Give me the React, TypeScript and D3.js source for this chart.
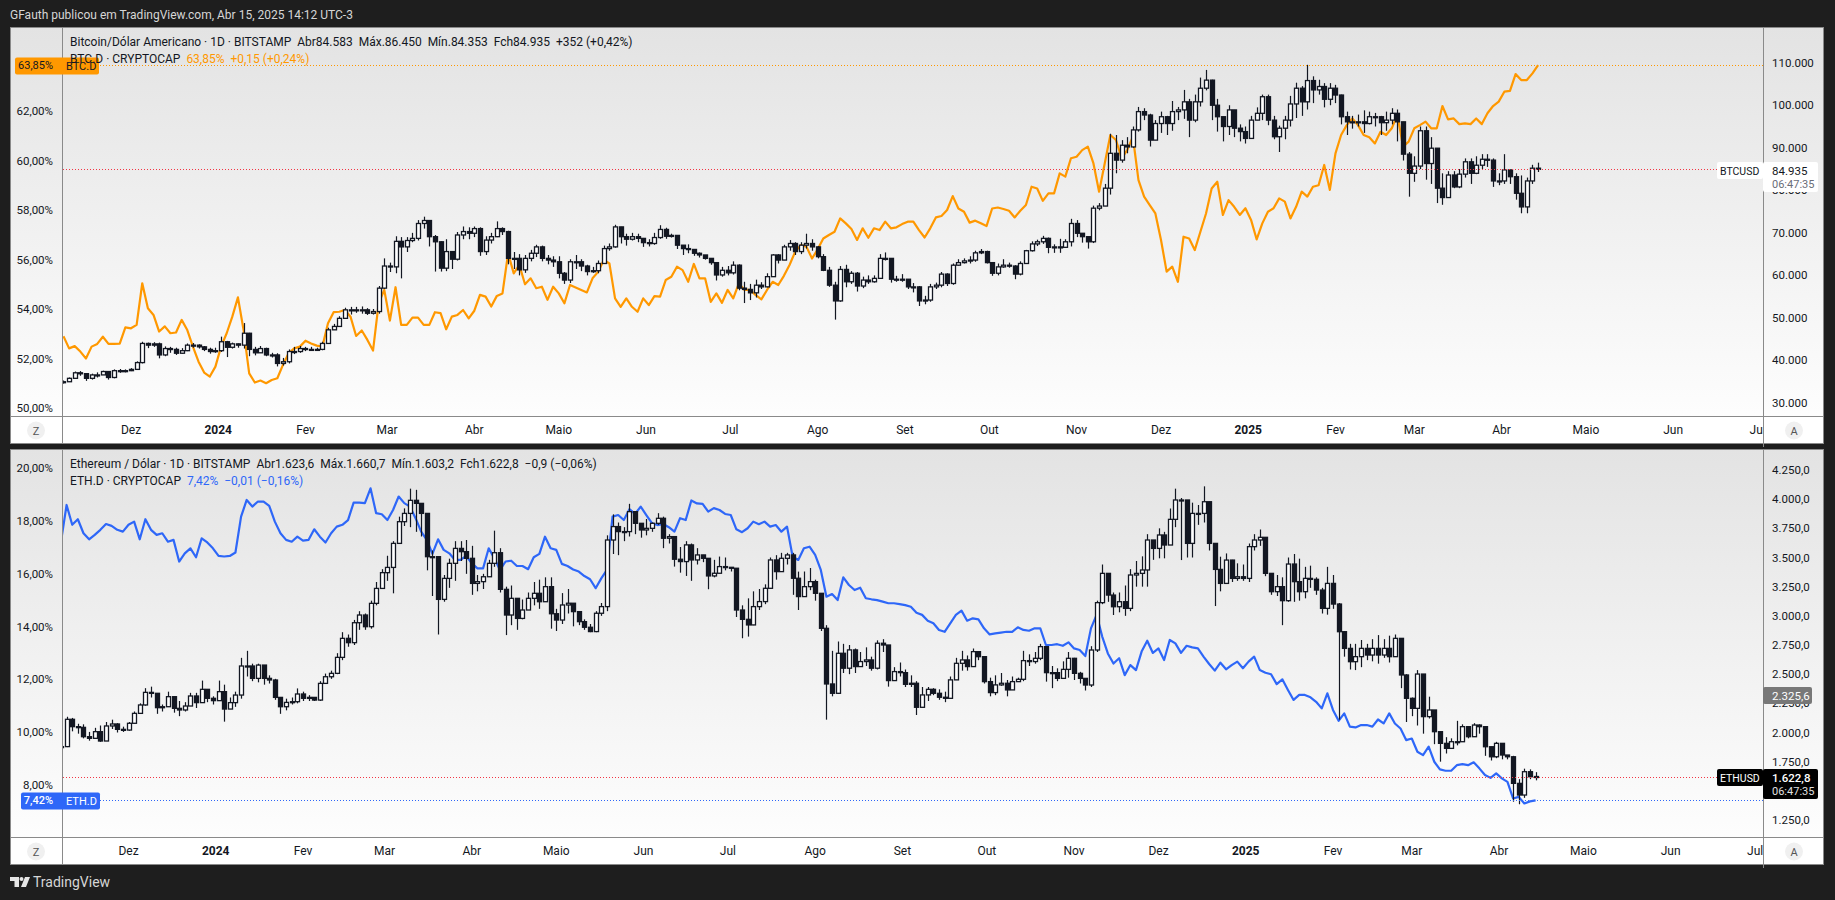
import React from 'react'
import * as d3 from 'd3'

// every candle and line point is one 2-day step from firstDate
const firstDate = new Date(Date.UTC(2023, 10, 7))

const btcClose = [
  35.0,35.8,37.1,36.9,35.8,36.6,36.6,37.4,36.0,37.6,
  37.6,37.6,37.9,39.5,44.0,43.6,43.9,41.3,42.8,42.6,
  41.7,42.3,43.6,43.6,43.2,42.6,42.1,42.3,44.4,43.1,
  43.9,43.6,46.4,42.6,41.8,42.8,41.3,41.3,39.3,39.7,
  42.1,42.1,42.8,42.6,42.6,42.6,44,47.2,48,49.9,
  51.9,51.9,51.9,51.9,51.1,51.5,57,62.2,62,68,
  66.7,68.2,68.7,72.2,72.9,69.1,67.9,61.7,65.6,63.8,
  69.5,70.3,69.9,71,65.6,68.3,69.1,71,70.3,64,
  64,61.3,64,65.2,66.7,64,63.6,63.2,
  60.5,58.9,63.2,63.2,62.2,60.9,61.1,62.8,66.3,66.7,71.4,69.1,
  68.5,69.1,68.7,67.7,67.5,68.9,70.8,69.2,69.4,67.1,
  66.3,66.1,65.2,64.8,64,63,60.1,61.2,60.6,62.4,
  57,56.7,55.9,57.7,57.3,59.7,64.8,63.6,66.7,67.5,
  65.6,67.1,67.5,66.7,64.4,61.2,57.7,54,61.4,58.5,
  60.5,57.5,58.9,58.5,59.3,64,64,59.1,59.1,59.1,
  57.3,57.3,54,54.2,57.3,57.7,60.3,58.1,62.4,63,
  63.4,63.6,65.3,65.6,63,60.5,62,62.4,62.2,60.3,
  62.8,65.8,67.4,67.9,68.7,66.6,
  66.7,66.6,67.9,72.2,69.9,69.1,67.9,75.8,76.3,80.5,
  88.7,87.1,90.6,90.2,94.2,98.5,97.7,91.8,95.7,97.3,
  95.7,98.5,98.9,100.8,96.5,100.8,104,105.9,100,97.3,
  95,98.9,94.6,93.8,92.2,96.5,98.1,102,96.5,92.6,
  94.6,96.5,100.3,104,100.8,105.8,103.6,104.4,101.4,104,
  102.4,97.3,96.1,96.1,96.1,95.7,97.3,97.3,95.9,96.5,
  98.1,96.1,88.5,84,85.7,94,86.3,89.9,80.5,78.3,
  83.6,80.8,83.8,86.7,84,85.9,87.3,87.1,82.2,82.2,
  84.8,83.2,79.3,76.1,82.2,85.2,84.935
]
const btcHigh = [
  35.3,36,37.4,37.5,37,36.9,37.2,37.6,37.5,37.9,
  38,37.9,38.2,39.8,44.4,44.2,44.3,44.2,43.3,43.2,
  43,42.9,44,44.1,43.8,43.4,43,43,45.6,44.6,
  44.2,44,48.8,46.5,43.2,43.4,43,41.8,41.7,40.6,
  42.6,43.2,43.4,43.2,43.2,43,44.4,47.7,48.6,50.4,
  52.4,52.6,52.6,52.7,52.3,52.1,57.5,64,63,69.2,
  69,69,70,73,73.8,71.5,69.5,68,68.5,65.5,
  70.2,71.5,71.3,71.5,71.3,69.2,70,72.7,71.3,70.5,
  65.5,65,64.8,66,67.2,67,64.8,64.5,
  64.5,60.8,63.8,64.8,63.8,62.5,62,63.5,67,67.5,71.9,71,
  69.8,70,69.8,68.8,68.5,70,71.8,71.2,69.8,69.2,
  67,67.3,66,65.4,64.6,63.6,63,62,62.2,63.3,
  62.6,58.5,58,59,58.4,60.5,65,65,67.2,68.3,
  67.8,67.8,69.8,68.5,66.9,65,62,58.5,62.2,62.5,
  61,60.8,59.7,60,60,65,65.4,64,59.9,60.3,
  59,58.2,57.5,55.2,58,58.3,60.8,60.5,62.8,63.8,
  64,64.5,65.8,66.2,65.8,63,62.8,63.8,63,62.4,
  63.3,66,68,68.4,69.3,68.9,
  67.3,68.6,68.5,73.3,73,69.8,69,76.4,77,81.5,
  93.3,93,91.8,92.5,95,99.6,99.3,98,96.5,98.5,
  97.5,101,99.6,103.6,101.5,102.5,106.5,108.3,106,101.5,
  97,100,98.8,95.5,95,97.5,99.5,102.5,102.5,97.5,
  95.2,97.5,102.2,105.3,104.5,109.5,106.8,106,105.2,105.2,
  104.8,102.5,98.5,97.5,97.8,98.8,98.5,98.2,97.5,98.5,
  99.3,99,93,89,88,95,95,92.5,86.5,84,
  84.5,84.5,85,87.5,87.5,88,88.5,88.5,87.5,84,
  88.5,84.5,84,83.5,83,86,86.5
]
const btcLow = [
  34.6,35,35.8,36.4,35.2,35.5,36,36.8,35.5,35.8,
  37.1,37.2,37.5,37.8,39.3,42.9,43.2,40.5,41,41.8,
  41.3,41.6,42.2,43,42.8,42.2,41.6,41.8,42,40.8,
  42.8,43,42.8,41,41.2,41.8,41,40.7,38.6,38.8,
  39.3,41.5,41.8,42.2,42.3,42.3,42.4,44,47.2,48,
  49.8,50.8,51.2,51,50.7,50.8,51,56.8,60.8,60.5,
  59.3,65.5,67.8,68.2,71,66.8,60.9,60.9,61,61.5,
  63.5,68.5,68.5,69,64.6,64.8,67.5,69,69.5,62.6,
  61.5,60,60.6,63.3,64.3,63.3,62.6,62,
  59.3,58,58.2,61.5,61,60,60.6,60.5,62.8,65.8,66.5,67.5,
  67,68.2,67.8,66.7,66.8,67.2,68.6,68.6,68.9,66.2,
  64.8,65.2,64.6,64.2,63.7,62.5,58.8,59.7,60,60.2,
  56.5,53.5,54.2,54.8,56.8,57.2,59.7,62.8,63.8,65.8,
  64.8,65,66.3,65.8,64,61,57.3,49.6,53.8,57.2,
  58,56.2,57,58,58.3,59.3,63.5,58.3,58.5,58.5,
  56.8,56,52.8,53.2,53.8,56.8,57.2,57.5,57.8,62.3,
  62.8,62.8,63.2,65,62.8,59.9,60,61.8,61.8,59.1,
  60,62.8,65.6,66.9,67.4,65.2,
  65.3,65.3,66.5,66.8,69,67.7,66.3,67.6,75.3,76.3,
  79,84,86.5,88.7,90,93.8,96.5,90.3,92,93.5,
  93,94,96.5,96.8,92.5,96,99.7,103.5,96.5,93.8,
  91.5,93,92.5,91.5,91,92.5,96.5,96.5,95.3,92,
  89,92,95,97,97.5,99,100.5,102.5,99.5,100,
  100.5,95.5,93,94.5,95,93.5,95.5,95,93,94,
  95.5,91.5,87,78.5,82,85,82.5,81.5,77,76.6,
  79,80.5,80.5,83,81.5,83.8,85,85.5,80.8,81.2,
  81.5,81.5,77.8,74.6,74.6,81.5,84.3
]
const btcDominance = [
  52.9,52.41,52.5,52.28,52.0,52.48,52.59,52.88,52.59,52.59,
  52.6,53.26,53.22,53.36,55.04,54.03,53.76,53.09,53.3,53.02,
  53.05,53.56,53.15,52.48,51.87,51.43,51.27,51.67,52.48,53.02,
  53.69,54.47,53.15,51.4,51.03,51.11,51,51.13,51.2,51.74,
  52.21,52.41,52.48,52.72,52.61,52.52,52.48,53.42,53.87,53.89,
  53.96,53.69,52.91,53.13,52.75,52.32,54.23,54.77,53.53,54.88,
  53.36,53.36,53.65,53.65,53.36,53.36,53.87,53.83,53.18,53.69,
  53.76,53.96,53.62,53.93,54.57,54.5,54.1,54.53,54.63,56.25,
  55.44,55.78,55,55.24,54.84,54.9,54.37,54.9,
  54.63,54.23,54.97,54.87,54.77,54.67,55.24,55.5,55.98,55.84,54.43,54.09,
  54.43,54.09,53.89,54.43,54.16,54.52,54.5,55.17,55.3,55.71,
  55.57,55.1,55.82,55.24,55.24,54.29,54.63,54.25,54.77,54.43,
  55.03,54.77,54.77,54.56,54.39,54.77,55.1,54.97,55.34,55.78,
  56.31,56.58,56.52,56.04,56.41,56.85,56.99,57.12,57.66,57.46,
  57.23,56.79,57.26,56.88,57.26,57.19,57.53,57.26,57.3,57.43,
  57.53,57.53,57.19,56.89,57.26,57.7,57.76,58,58.56,58.06,
  57.93,57.49,57.57,57.46,57.35,58.06,58.1,58.04,57.97,57.7,
  57.97,58.2,58.94,58.87,58.37,58.67,
  58.67,59.48,59.35,60.09,60.15,60.42,60.56,59.88,58.74,59.88,
  61.03,60.83,60.09,60.42,60.96,59.21,58.54,58.2,57.86,56.79,
  55.51,55.71,55.1,56.92,56.85,56.38,57.12,57.86,58.87,59.14,
  57.8,58.4,58.13,57.8,58.07,57.6,56.81,57.46,57.93,58.07,
  58.47,58.34,57.66,58.13,58.74,58.54,58.94,59,59.82,58.81,
  60.29,61.03,61.43,61.7,61.43,61.03,60.94,60.69,61.16,61.03,
  61.3,61.84,60.56,60.76,61.3,61.43,61.57,61.3,61.3,62.2,
  61.66,61.7,61.47,61.5,61.47,61.7,61.47,61.91,62.2,62.38,
  62.78,62.81,63.49,63.25,63.25,63.52,63.85
]

const ethClose = [
  1879,2113,2050,2044,1964,1950,2007,1927,2056,2073,
  2027,2021,2079,2164,2236,2344,2336,2213,2221,2307,
  2207,2193,2227,2313,2256,2370,2293,2273,2350,2201,
  2256,2321,2570,2570,2464,2578,2464,2450,2301,2221,
  2258,2264,2330,2293,2301,2278,2421,2478,2507,2644,
  2807,2770,2941,3007,2907,3107,3235,3370,3415,3621,
  3807,3878,3990,3964,3878,3507,3507,3141,3321,3450,
  3578,3550,3493,3278,3293,3335,3450,3541,3227,3007,
  3150,2978,3050,3150,3193,3121,3250,3018,2964,
  3093,3108,3036,2950,2902,2865,3022,3079,3650,3765,3722,
  3722,3893,3793,3736,3750,3793,3836,3665,3679,3485,
  3465,3608,3479,3522,3493,3342,3365,3422,3416,3408,
  3050,2970,2922,3079,3122,3236,3479,3379,3493,3522,
  3322,3165,3250,3293,3193,2893,2416,2336,2679,2551,
  2708,2565,2608,2622,2551,2765,2750,2445,2522,2513,
  2413,2422,2216,2322,2370,2336,2302,2293,2451,2593,
  2622,2565,2693,2650,2436,2342,2408,2422,2365,2436,
  2456,2616,2608,2636,2736,2513,
  2513,2464,2541,2636,2507,2464,2407,2707,3113,3364,
  3178,3078,3121,3064,3350,3364,3393,3650,3578,3693,
  3607,3827,3993,3993,3621,3878,3878,3978,3621,3398,
  3278,3478,3321,3335,3321,3593,3650,3673,3364,3207,
  3250,3130,3444,3293,3207,3321,3313,3221,3064,3278,
  3101,2864,2721,2607,2650,2721,2664,2721,2664,2721,
  2650,2807,2493,2293,2207,2501,2136,2193,2007,1907,
  1864,1921,1921,2050,1964,2064,2050,1878,1792,1907,
  1807,1792,1564,1464,1664,1621,1622.8
]
const ethHigh = [
  1900,2135,2125,2075,2070,2005,2040,2060,2090,2110,
  2080,2050,2090,2180,2250,2380,2393,2320,2240,2350,
  2310,2270,2260,2340,2340,2445,2350,2310,2445,2410,
  2300,2350,2640,2700,2590,2590,2500,2490,2460,2260,
  2290,2300,2378,2350,2320,2300,2440,2505,2530,2680,
  2860,2840,2965,3040,3020,3130,3290,3400,3515,3640,
  3850,3921,4090,4080,3950,3700,3560,3240,3350,3490,
  3640,3640,3650,3600,3350,3360,3480,3730,3580,3250,
  3260,3150,3140,3200,3290,3310,3330,3330,3060,
  3195,3230,3100,3010,2970,2930,3040,3110,3690,3870,3800,
  3760,3960,3870,3780,3830,3800,3880,3850,3700,3530,
  3590,3640,3620,3580,3500,3430,3480,3508,3500,3410,
  3410,3090,3150,3210,3230,3270,3500,3520,3540,3540,
  3540,3379,3380,3410,3310,3190,2920,2700,2780,2760,
  2750,2720,2690,2730,2650,2790,2800,2610,2560,2600,
  2540,2490,2440,2390,2390,2380,2370,2350,2480,2640,
  2700,2660,2720,2680,2650,2470,2490,2510,2450,2480,
  2470,2700,2670,2690,2760,2700,
  2570,2550,2610,2690,2640,2520,2440,2740,3130,3440,
  3335,3200,3200,3260,3400,3470,3510,3700,3650,3750,
  3720,3920,4090,4010,3700,3970,3950,4110,3960,3620,
  3507,3535,3480,3450,3440,3620,3700,3740,3440,3360,
  3350,3330,3500,3530,3490,3420,3430,3330,3240,3420,
  3350,3110,2870,2760,2760,2793,2760,2800,2835,2800,
  2830,2840,2630,2500,2300,2535,2340,2307,2193,1990,
  1960,1950,2100,2070,2030,2080,2070,1920,1830,1920,
  1840,1800,1800,1600,1690,1684,1660
]
const ethLow = [
  1865,1875,2010,1990,1950,1930,1950,1920,1930,2030,
  2000,2005,2015,2090,2160,2230,2300,2160,2180,2220,
  2170,2140,2180,2230,2210,2290,2260,2240,2270,2093,
  2220,2220,2290,2480,2440,2430,2410,2420,2280,2160,
  2190,2240,2250,2270,2270,2270,2270,2420,2460,2500,
  2620,2735,2750,2880,2880,2890,3090,3230,3300,3193,
  3640,3770,3760,3720,3680,3390,3170,2840,3121,3240,
  3300,3470,3360,3180,3210,3230,3400,3420,3200,2835,
  2920,2880,2970,3060,3090,3060,3190,2890,2870,
  2930,3020,2910,2920,2880,2860,2860,3000,3040,3530,3520,
  3640,3680,3700,3670,3690,3720,3780,3580,3620,3422,
  3370,3342,3300,3440,3460,3228,3330,3380,3390,3380,
  2990,2808,2822,2920,3050,3100,3230,3310,3380,3440,
  3180,3050,3180,3220,3130,2870,2110,2310,2330,2510,
  2500,2510,2580,2570,2530,2540,2690,2393,2500,2480,
  2390,2390,2150,2220,2270,2320,2280,2260,2400,2522,
  2530,2530,2590,2620,2420,2310,2320,2400,2310,2400,
  2440,2440,2570,2590,2620,2436,
  2380,2440,2510,2470,2450,2420,2360,2390,2690,3100,
  3120,3007,3030,3000,3040,3250,3250,3250,3480,3493,
  3493,3620,3760,3478,3500,3500,3780,3800,3560,3084,
  3210,3310,3290,3300,3300,3290,3560,3600,3340,3180,
  3170,2920,3120,3120,3130,3150,3240,3180,3020,3010,
  3060,2110,2650,2540,2535,2560,2620,2610,2590,2640,
  2600,2650,2380,2090,2140,2060,1990,2120,1900,1750,
  1820,1860,1890,1950,1950,1990,1990,1800,1760,1780,
  1770,1770,1407,1385,1440,1600,1590
]
const ethDominance = [
  17.21,18.6,17.85,18.06,17.53,17.3,17.47,17.66,17.88,17.81,
  17.66,17.59,17.85,17.97,17.3,18.06,17.66,17.47,17.53,17.21,
  17.28,16.46,16.77,16.96,16.62,17.34,17.18,16.96,16.67,16.65,
  16.67,16.8,18.16,18.79,18.54,18.73,18.73,18.57,17.97,17.53,
  17.28,17.21,17.4,17.25,17.28,17.68,17.4,17.18,17.53,17.78,
  17.85,18.03,18.69,18.69,18.67,19.23,18.29,18.25,18.03,18.41,
  18.92,18.67,18.54,18.1,17.59,17.28,16.75,17.3,16.9,16.77,
  16.52,16.52,16.67,16.39,16.2,16.2,16.96,16.58,16.14,16.46,
  16.49,16.29,16.29,16.17,16.62,16.75,17.4,16.96,16.9,
  16.37,16.29,16.16,16.08,15.91,15.79,15.45,15.82,16.14,18.16,18.22,
  18.03,18.44,18.26,18.54,18.22,17.91,17.84,17.88,17.76,17.59,
  18.1,18.03,18.77,18.66,18.64,18.35,18.48,18.41,18.26,18.22,
  17.68,17.57,17.72,17.97,17.87,17.97,17.78,17.84,17.59,17.78,
  16.64,16.52,16.96,17.02,16.71,16.14,15.13,15.23,15,15.86,
  15.57,15.38,15.47,15.07,15.03,15,14.94,14.88,14.88,14.85,
  14.81,14.75,14.52,14.44,14.22,14.12,13.87,13.8,14.12,14.44,
  14.6,14.22,14.31,14.27,13.93,13.7,13.74,13.77,13.8,13.8,
  13.97,13.87,13.84,13.93,13.93,13.3,
  13.3,13.33,13.27,13.4,13.17,13.11,12.88,13.93,14.44,13.62,
  12.98,12.6,12.8,12.16,12.54,12.35,13.05,13.46,13,13.17,
  12.73,13.49,13.36,13,13.27,13.21,13.17,12.86,12.58,12.33,
  12.63,12.38,12.54,12.67,12.42,12.67,12.86,12.35,12.25,12.19,
  11.82,12,11.6,11.22,11.41,11.41,11.32,11.15,10.9,11.47,
  10.84,10.43,10.71,10.21,10.18,10.27,10.27,10.21,10.48,10.33,
  10.71,10.33,10.14,9.7,9.76,9.26,9.13,9.45,8.88,8.59,
  8.54,8.54,8.75,8.79,8.75,8.86,8.63,8.38,8.27,8.44,
  8.25,8.12,7.49,7.55,7.3,7.38,7.42
]

const timeLabels = ['Dez','2024','Fev','Mar','Abr','Maio','Jun','Jul','Ago','Set','Out','Nov','Dez','2025','Fev','Mar','Abr','Maio','Jun','Jul']
const timeMonths = [[2023,11],[2024,0],[2024,1],[2024,2],[2024,3],[2024,4],[2024,5],[2024,6],[2024,7],[2024,8],[2024,9],[2024,10],[2024,11],[2025,0],[2025,1],[2025,2],[2025,3],[2025,4],[2025,5],[2025,6]]

const btcDomTicks = [50,52,54,56,58,60,62,64]
const btcPriceTicks = [30,40,50,60,70,80,90,100,110]
const ethDomTicks = [8,10,12,14,16,18,20]
const ethPriceTicks = [1250,1500,1750,2000,2250,2500,2750,3000,3250,3500,3750,4000,4250]

const ptBR = d3.formatLocale({ decimal: ',', thousands: '.', grouping: [3], currency: ['', ''] })
const fmtPct = (v: number) => ptBR.format('.2f')(v) + '%'
const fmtBtc = (v: number) => ptBR.format(',d')(Math.round(v * 1000))
const fmtEth = ptBR.format(',.1f')

const FONT = 'Roboto, sans-serif'
const INK = '#131722'
const ORANGE = '#ff9800'
const BLUE = '#2e67f8'
const RED = '#f23645'

const dayAt = (i: number) => d3.utcDay.offset(firstDate, i * 2)
const LEFT = 62
const RIGHT = 1763

interface PanelProps {
  id: string
  top: number
  axisY: number
  bottom: number
  xShift: number
  closes: number[]
  highs: number[]
  lows: number[]
  line: number[]
  lineColor: string
  yDom: d3.ScaleLinear<number, number>
  yPrice: d3.ScaleLinear<number, number>
  domTicks: number[]
  priceTicks: number[]
  fmtPrice: (v: number) => string
}

const Panel = ({ id, top, axisY, bottom, xShift, closes, highs, lows, line, lineColor, yDom, yPrice, domTicks, priceTicks, fmtPrice }: PanelProps) => {
  const x = d3
    .scaleUtc()
    .domain([new Date(Date.UTC(2023, 11, 1)), new Date(Date.UTC(2024, 11, 1))])
    .range([131 + xShift, 1161 + xShift])
  const linePath = d3
    .line<number>()
    .x((_, i) => x(dayAt(i)))
    .y((d) => yDom(d))(line)

  return (
    <g>
      <rect x={10.5} y={top + 0.5} width={1813} height={bottom - top} fill={`url(#bg-${id})`} stroke="#8a8a8a" />
      <rect x={11} y={axisY} width={1812} height={bottom - axisY} fill="#fff" />
      <line x1={10} x2={1824} y1={axisY + 0.5} y2={axisY + 0.5} stroke="#8a8a8a" />
      <line x1={LEFT + 0.5} x2={LEFT + 0.5} y1={top} y2={bottom} stroke="#8a8a8a" />
      <line x1={RIGHT + 0.5} x2={RIGHT + 0.5} y1={top} y2={bottom + 4} stroke="#8a8a8a" />

      <clipPath id={`plot-${id}`}>
        <rect x={LEFT + 1} y={top + 1} width={RIGHT - LEFT - 1} height={axisY - top - 1} />
      </clipPath>
      <clipPath id={`time-${id}`}>
        <rect x={LEFT + 1} y={axisY} width={RIGHT - LEFT - 1} height={bottom - axisY} />
      </clipPath>

      {/* left dominance scale */}
      {domTicks.map((t) => (
        <text key={t} x={53} y={yDom(t)} textAnchor="end" dominantBaseline="central" fontSize={11.5} fill={INK}>
          {fmtPct(t)}
        </text>
      ))}
      {/* right price scale */}
      {priceTicks.map((t) => (
        <text key={t} x={1772} y={yPrice(t)} dominantBaseline="central" fontSize={11.5} fill={INK}>
          {fmtPrice(t)}
        </text>
      ))}

      <g clipPath={`url(#time-${id})`}>
        {timeLabels.map((label, i) => (
          <text
            key={i}
            x={x(new Date(Date.UTC(timeMonths[i][0], timeMonths[i][1], 1)))}
            y={(axisY + bottom) / 2}
            textAnchor="middle"
            dominantBaseline="central"
            fontSize={12}
            fontWeight={label.startsWith('20') ? 700 : 400}
            fill={INK}
          >
            {label}
          </text>
        ))}
      </g>

      <g clipPath={`url(#plot-${id})`}>
        <path d={linePath || ''} fill="none" stroke={lineColor} strokeWidth={2.2} strokeLinejoin="round" />
        {closes.map((close, i) => {
          const open = i ? closes[i - 1] : close
          const cx = Math.round(x(dayAt(i))) + 0.5
          const up = close >= open
          const yOpen = yPrice(open)
          const yClose = yPrice(close)
          const hi = yPrice(Math.max(highs[i], open, close))
          const lo = yPrice(Math.min(lows[i], open, close))
          return (
            <g key={i}>
              <line x1={cx} x2={cx} y1={hi} y2={lo} stroke={INK} strokeWidth={1.2} />
              <rect
                x={cx - 2}
                y={Math.min(yOpen, yClose)}
                width={4}
                height={Math.max(Math.abs(yClose - yOpen), 1)}
                fill={up ? '#fff' : INK}
                stroke={INK}
                strokeWidth={1.3}
              />
            </g>
          )
        })}
      </g>

      <circle cx={36} cy={(axisY + bottom) / 2 + 1} r={9} fill="#f0f0f0" />
      <circle cx={1794} cy={(axisY + bottom) / 2 + 1} r={9} fill="#f0f0f0" />
      <text x={36} y={(axisY + bottom) / 2 + 2} textAnchor="middle" dominantBaseline="central" fontSize={11} fill="#555">Z</text>
      <text x={1794} y={(axisY + bottom) / 2 + 2} textAnchor="middle" dominantBaseline="central" fontSize={11} fill="#555">A</text>
    </g>
  )
}

const Dotted = ({ x1, x2, y, color }: { x1: number; x2: number; y: number; color: string }) => (
  <line x1={x1} x2={x2} y1={y} y2={y} stroke={color} strokeWidth={1} strokeDasharray="1 2" />
)

const App = () => {
  const yBtcDom = d3.scaleLinear().domain([50, 62]).range([408, 111])
  const yBtc = d3.scaleLinear().domain([30, 110]).range([403, 62.7])
  const yEthDom = d3.scaleLinear().domain([8, 20]).range([785, 468])
  const yEth = d3.scaleLinear().domain([1250, 4250]).range([820, 470])

  const lastBtc = btcClose[btcClose.length - 1]
  const lastBtcDom = btcDominance[btcDominance.length - 1]
  const lastEth = ethClose[ethClose.length - 1]
  const lastEthDom = ethDominance[ethDominance.length - 1]
  const yB = Math.round(yBtc(lastBtc)) + 0.5
  const yBD = Math.round(yBtcDom(lastBtcDom)) + 0.5
  const yE = Math.round(yEth(lastEth)) + 0.5
  const yED = Math.round(yEthDom(lastEthDom)) + 0.5

  return (
    <svg
      width={1835}
      height={900}
      style={{ position: 'absolute', left: 0, top: 0, background: '#1e1e1e', fontFamily: FONT }}
    >
      <defs>
        <linearGradient id="bg-btc" x1="0" x2="0" y1="0" y2="1">
          <stop offset="0" stopColor="#e3e3e3" />
          <stop offset="1" stopColor="#ffffff" />
        </linearGradient>
        <linearGradient id="bg-eth" x1="0" x2="0" y1="0" y2="1">
          <stop offset="0" stopColor="#e3e3e3" />
          <stop offset="1" stopColor="#ffffff" />
        </linearGradient>
      </defs>

      <text x={10} y={15} dominantBaseline="central" fontSize={12} fill="#d6d6d6">
        GFauth publicou em TradingView.com, Abr 15, 2025 14:12 UTC-3
      </text>

      <Panel
        id="btc" top={27} axisY={416} bottom={443} xShift={0}
        closes={btcClose} highs={btcHigh} lows={btcLow} line={btcDominance} lineColor={ORANGE}
        yDom={yBtcDom} yPrice={yBtc} domTicks={btcDomTicks} priceTicks={btcPriceTicks} fmtPrice={fmtBtc}
      />
      <Panel
        id="eth" top={449} axisY={837} bottom={864} xShift={-2.5}
        closes={ethClose} highs={ethHigh} lows={ethLow} line={ethDominance} lineColor={BLUE}
        yDom={yEthDom} yPrice={yEth} domTicks={ethDomTicks} priceTicks={ethPriceTicks} fmtPrice={fmtEth}
      />

      {/* last value lines */}
      <Dotted x1={100} x2={RIGHT} y={yBD} color={ORANGE} />
      <Dotted x1={LEFT + 1} x2={1717} y={yB} color={RED} />
      <Dotted x1={LEFT + 1} x2={1717} y={yE} color={RED} />
      <Dotted x1={100} x2={RIGHT} y={yED} color={BLUE} />

      {/* BTC.D tag */}
      <rect x={15} y={yBD - 8} width={84} height={17} rx={2} fill={ORANGE} />
      <text x={53} y={yBD} textAnchor="end" dominantBaseline="central" fontSize={11} fill={INK}>{fmtPct(lastBtcDom)}</text>
      <text x={66} y={yBD + 1} dominantBaseline="central" fontSize={11} fill={INK}>BTC.D</text>

      {/* ETH.D tag */}
      <rect x={21} y={yED - 8} width={79} height={17} rx={2} fill={BLUE} />
      <text x={53} y={yED} textAnchor="end" dominantBaseline="central" fontSize={11} fontWeight={500} fill="#fff">{fmtPct(lastEthDom)}</text>
      <text x={66} y={yED + 1} dominantBaseline="central" fontSize={11} fill="#fff">ETH.D</text>

      {/* BTCUSD tag */}
      <rect x={1717} y={162} width={46} height={17} rx={2} fill="#fff" />
      <rect x={1763} y={162} width={55} height={30} rx={2} fill="#fff" />
      <text x={1720} y={171} dominantBaseline="central" fontSize={10.5} fill={INK}>BTCUSD</text>
      <text x={1772} y={171} dominantBaseline="central" fontSize={11.5} fill={INK}>{fmtBtc(lastBtc)}</text>
      <text x={1772} y={184} dominantBaseline="central" fontSize={11} fill="#6a6d78">06:47:35</text>

      {/* ETHUSD tag */}
      <rect x={1717} y={769} width={46} height={17} rx={2} fill="#000" />
      <rect x={1763} y={769} width={55} height={30} rx={2} fill="#000" />
      <text x={1720} y={778} dominantBaseline="central" fontSize={10.5} fill="#fff">ETHUSD</text>
      <text x={1772} y={778} dominantBaseline="central" fontSize={11.5} fontWeight={500} fill="#fff">{fmtEth(lastEth)}</text>
      <text x={1772} y={791} dominantBaseline="central" fontSize={11} fill="#e0e0e0">06:47:35</text>

      {/* grey price tag */}
      <rect x={1763} y={687} width={49} height={17} rx={2} fill="#787878" />
      <text x={1772} y={695.5} dominantBaseline="central" fontSize={11.5} fill="#fff">2.325,6</text>

      {/* legends */}
      <text x={70} y={41.5} dominantBaseline="central" fontSize={12} fill={INK} xmlSpace="preserve">
        {'Bitcoin/Dólar Americano · 1D · BITSTAMP  Abr84.583  Máx.86.450  Mín.84.353  Fch84.935  +352 (+0,42%)'}
      </text>
      <text x={70} y={59} dominantBaseline="central" fontSize={12} fill={INK} xmlSpace="preserve">
        {'BTC.D · CRYPTOCAP  '}
        <tspan fill={ORANGE}>{'63,85%  +0,15 (+0,24%)'}</tspan>
      </text>
      <text x={70} y={464} dominantBaseline="central" fontSize={12} fill={INK} xmlSpace="preserve">
        {'Ethereum / Dólar · 1D · BITSTAMP  Abr1.623,6  Máx.1.660,7  Mín.1.603,2  Fch1.622,8  −0,9 (−0,06%)'}
      </text>
      <text x={70} y={481} dominantBaseline="central" fontSize={12} fill={INK} xmlSpace="preserve">
        {'ETH.D · CRYPTOCAP  '}
        <tspan fill={BLUE}>{'7,42%  −0,01 (−0,16%)'}</tspan>
      </text>

      {/* TradingView logo */}
      <path d="M10 877H19V887H14.5V881H10Z" fill="#e6e6e6" />
      <circle cx={21.5} cy={879} r={2} fill="#e6e6e6" />
      <path d="M25 877H30L26 887H21Z" fill="#e6e6e6" />
      <text x={33} y={882} dominantBaseline="central" fontSize={14} fill="#d6d6d6">TradingView</text>
    </svg>
  )
}

export default App
